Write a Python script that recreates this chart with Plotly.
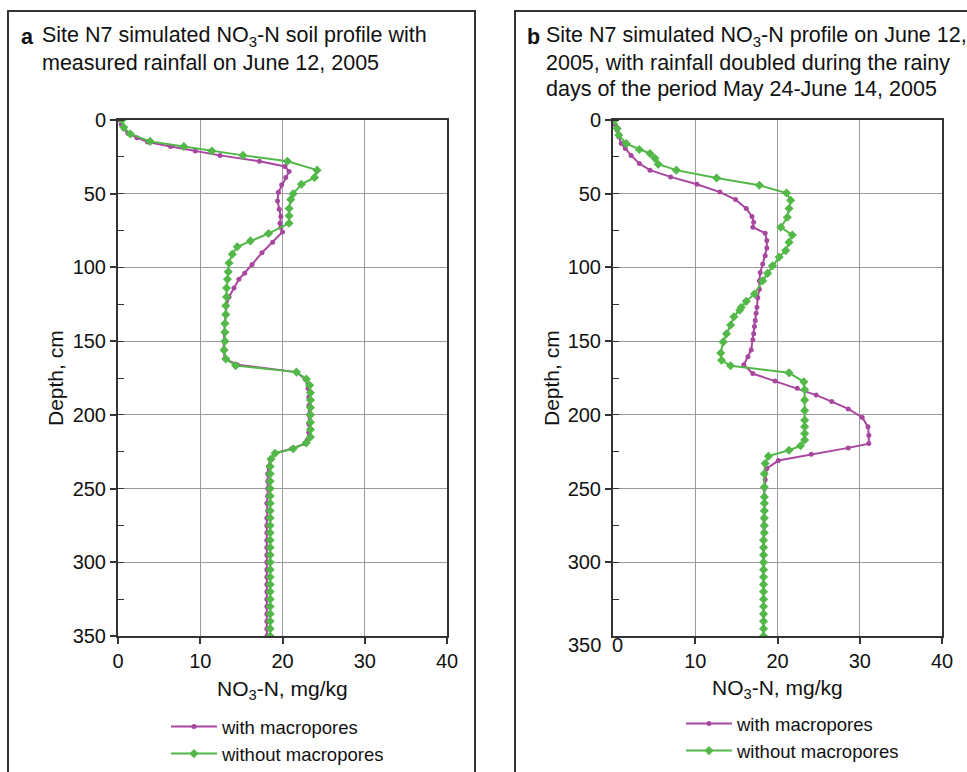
import plotly.graph_objects as go

# ---------------- DATA ----------------
# Panel a: measured rainfall
a_with_depth = [0, 3, 6, 9, 12, 15, 18, 21, 24, 28, 31.5, 35, 39, 44, 49, 55, 60.5, 65.5, 70, 73, 76,
                83, 90, 98, 104, 108, 114, 120, 126, 132, 138, 144, 150, 156, 162, 166, 171, 176, 182,
                188, 194, 200, 206, 212, 217, 219.5, 223, 226, 230, 235, 240, 245, 250, 255, 260, 265,
                270, 275, 280, 285, 290, 295, 300, 305, 310, 315, 320, 325, 330, 335, 340, 345, 350]
a_with_no3 = [0.2, 0.4, 0.7, 1.2, 2.3, 3.6, 6.4, 9.4, 12.4, 17.2, 20.3, 20.8, 20.4, 19.9, 19.5, 19.4,
              19.6, 19.8, 19.7, 19.8, 20.0, 18.8, 17.5, 16.3, 15.4, 14.7, 14.1, 13.5, 13.2, 13.1, 13.0,
              12.9, 12.9, 12.8, 13.0, 14.5, 21.7, 22.8, 23.1, 23.2, 23.2, 23.2, 23.2, 23.2, 23.0, 22.7,
              21.1, 19.1, 18.5, 18.3, 18.2, 18.2, 18.2, 18.2, 18.1, 18.2, 18.1, 18.1, 18.1, 18.1, 18.1,
              18.1, 18.1, 18.1, 18.1, 18.1, 18.1, 18.1, 18.1, 18.1, 18.1, 18.1, 18.1]

a_without_depth = [0, 5, 9.5, 14.5, 18, 21, 24, 28, 34, 39, 43.6, 50, 54, 60, 65, 70, 77, 82, 86, 91,
                   97, 103, 108, 114, 120, 126, 132, 138, 144, 150, 156, 162, 166.6, 171, 175.7, 180,
                   185, 190, 195, 200, 205, 210, 215, 219, 223, 226, 230, 235, 240, 245, 250, 255, 260,
                   265, 270, 275, 280, 285, 290, 295, 300, 305, 310, 315, 320, 325, 330, 335, 340, 345, 350]
a_without_no3 = [0.5, 0.7, 1.5, 3.9, 8.0, 11.4, 15.2, 20.6, 24.2, 23.9, 22.3, 21.3, 21.0, 20.8, 20.8,
                 20.8, 18.3, 16.1, 14.5, 13.9, 13.5, 13.4, 13.3, 13.2, 13.2, 13.1, 13.1, 13.0, 13.0,
                 13.0, 12.9, 13.1, 14.3, 21.7, 22.9, 23.3, 23.4, 23.4, 23.4, 23.4, 23.4, 23.4, 23.4,
                 22.9, 21.3, 19.1, 18.6, 18.5, 18.5, 18.5, 18.5, 18.5, 18.5, 18.5, 18.5, 18.5, 18.5,
                 18.5, 18.5, 18.5, 18.5, 18.5, 18.5, 18.5, 18.5, 18.5, 18.5, 18.5, 18.5, 18.5, 18.5]

# Panel b: rainfall doubled
b_with_depth = [0, 3.4, 6.8, 11.4, 16, 19.3, 24, 29.5, 34, 38.6, 43.6, 48.9, 54, 60, 65.5, 69.3, 72.7,
                76.8, 81.8, 86.8, 92, 97.7, 103.4, 109, 114.8, 120.5, 127, 131, 136, 140, 145, 149,
                156, 160.6, 166, 172, 177, 182, 186.6, 191, 196, 201.8, 208, 213.8, 219.5, 222.4,
                226.7, 231, 236.4, 244, 250, 255, 260, 265, 270, 275, 280, 285, 290, 295, 300, 305,
                310, 315, 320, 325, 330, 335, 340, 345, 350]
b_with_no3 = [0.2, 0.3, 0.5, 0.7, 1.0, 1.5, 2.2, 3.2, 4.5, 7.0, 10.2, 13.0, 14.9, 16.2, 16.9, 17.1,
              17.0, 18.5, 18.7, 18.7, 18.5, 18.2, 17.9, 17.8, 17.8, 17.6, 17.5, 17.4, 17.3, 17.2, 17.1,
              17.0, 16.8, 16.4, 15.9, 17.0, 19.7, 22.4, 24.7, 26.6, 28.6, 30.3, 31.0, 31.1, 31.1, 28.6,
              24.1, 20.1, 18.7, 18.5, 18.4, 18.4, 18.4, 18.4, 18.3, 18.3, 18.3, 18.3, 18.3, 18.3, 18.3,
              18.3, 18.3, 18.3, 18.3, 18.3, 18.3, 18.3, 18.3, 18.3, 18.3]

b_without_depth = [0, 5.7, 10.2, 16, 20, 22.7, 26, 30, 34, 39.3, 44.3, 49.5, 54.5, 60, 66, 72.7, 78,
                   83, 88.6, 93, 98.9, 104, 109, 118, 123, 127, 129, 133.5, 139, 145, 150.5, 158, 163,
                   166.7, 171.5, 177.6, 183, 190, 197, 203.6, 208, 212.7, 217, 221, 224, 228, 233, 240,
                   249, 255.7, 260, 265, 270, 275, 280, 285, 290, 295, 300, 305, 310, 315, 320, 325,
                   330, 335, 340, 345, 350]
b_without_no3 = [0.2, 0.5, 0.7, 1.6, 3.2, 4.5, 5.1, 5.5, 7.7, 12.6, 17.8, 21.1, 21.6, 21.4, 21.2,
                 20.4, 21.8, 21.4, 21.0, 20.2, 19.4, 18.8, 18.2, 17.2, 16.2, 15.6, 15.4, 14.7, 14.3,
                 13.8, 13.4, 13.1, 13.2, 14.3, 21.4, 23.2, 23.3, 23.3, 23.3, 23.3, 23.3, 23.3, 23.3,
                 22.8, 21.4, 18.9, 18.5, 18.4, 18.4, 18.4, 18.4, 18.4, 18.4, 18.4, 18.4, 18.3, 18.3,
                 18.3, 18.3, 18.3, 18.3, 18.3, 18.3, 18.3, 18.3, 18.3, 18.3, 18.3, 18.3]

x_ticks = [0, 10, 20, 30, 40]
y_ticks = [0, 50, 100, 150, 200, 250, 300, 350]
series_names = ["with macropores", "without macropores"]
title_a_lines = ["Site N7 simulated NO<sub>3</sub>-N soil profile with",
                 "measured rainfall on June 12, 2005"]
title_b_lines = ["Site N7 simulated NO<sub>3</sub>-N profile on June 12,",
                 "2005, with rainfall doubled during the rainy",
                 "days of the period May 24-June 14, 2005"]

# ---------------- STYLE ----------------
W, H = 967, 772
MAG = "#A8479F"
GRN = "#52B848"
DARK = "#333333"
GRID = "#9a9a9a"
FONT = "Liberation Sans, Arial, sans-serif"

def px_x(p):
    return p / W

def px_y(p):
    return 1 - p / H

fig = go.Figure()

def add_series(depth, vals, name, color, symbol, size, xa, ya, legend):
    fig.add_trace(go.Scatter(
        x=vals, y=depth, name=name, mode="lines+markers",
        line=dict(color=color, width=2),
        marker=dict(color=color, symbol=symbol, size=size, line=dict(width=0)),
        xaxis=xa, yaxis=ya, legend=legend))

add_series(a_with_depth, a_with_no3, series_names[0], MAG, "circle", 5, "x", "y", "legend")
add_series(a_without_depth, a_without_no3, series_names[1], GRN, "diamond", 7, "x", "y", "legend")
add_series(b_with_depth, b_with_no3, series_names[0], MAG, "circle", 5, "x2", "y2", "legend2")
add_series(b_without_depth, b_without_no3, series_names[1], GRN, "diamond", 7, "x2", "y2", "legend2")

xdomA = [px_x(118), px_x(447)]
xdomB = [px_x(613), px_x(942)]
ydom = [px_y(636), px_y(120)]
TICKF = dict(size=20, color="#111", family=FONT)

def xaxis_main(domain, anchor, tickvals):
    return dict(domain=domain, anchor=anchor, range=[0, 40], tickvals=tickvals,
                showgrid=True, gridcolor=GRID, gridwidth=1.3,
                showline=True, linecolor=DARK, linewidth=2, mirror=True,
                ticks="outside", ticklen=6, tickwidth=2, tickcolor=DARK,
                tickfont=TICKF, zeroline=False, fixedrange=True, automargin=False)

def xaxis_top(domain, overlay, anchor):
    return dict(domain=domain, overlaying=overlay, anchor=anchor, side="top", range=[0, 40],
                dtick=2, tick0=0, ticks="inside", ticklen=5, tickwidth=1, tickcolor=DARK,
                showticklabels=False, showgrid=False, showline=True, linecolor=DARK,
                linewidth=2, zeroline=False, fixedrange=True, automargin=False)

def yaxis_main(anchor, tickvals):
    return dict(domain=ydom, anchor=anchor, range=[350, 0], tickvals=tickvals,
                showgrid=True, gridcolor=GRID, gridwidth=1.3,
                showline=True, linecolor=DARK, linewidth=2, mirror=True,
                ticks="outside", ticklen=6, tickwidth=2, tickcolor=DARK,
                minor=dict(dtick=25, tick0=0, ticks="inside", ticklen=6, tickwidth=1,
                           tickcolor=DARK, showgrid=False),
                tickfont=TICKF, zeroline=False, fixedrange=True, automargin=False)

LEGF = dict(size=18.5, family=FONT, color="#111")
layout = dict(
    autosize=True, margin=dict(l=0, r=0, t=0, b=0, pad=0, autoexpand=False),
    paper_bgcolor="white", plot_bgcolor="white",
    font=dict(family=FONT, color="#111"),
    xaxis=xaxis_main(xdomA, "y", x_ticks),
    yaxis=yaxis_main("x", y_ticks),
    xaxis2=xaxis_main(xdomB, "y2", x_ticks[1:]),
    yaxis2=yaxis_main("x2", y_ticks[:-1]),
    xaxis3=xaxis_top(xdomA, "x", "y"),
    xaxis4=xaxis_top(xdomB, "x2", "y2"),
    legend=dict(x=px_x(166), y=px_y(708), xanchor="left", yanchor="top",
                font=LEGF, bgcolor="rgba(0,0,0,0)", tracegroupgap=0, itemwidth=46),
    legend2=dict(x=px_x(681), y=px_y(705), xanchor="left", yanchor="top",
                 font=LEGF, bgcolor="rgba(0,0,0,0)", tracegroupgap=0, itemwidth=46),
    showlegend=True,
    hovermode=False,
)
fig.update_layout(**layout)

# panel frames
for x0, x1 in [(8, 475), (515, 1000)]:
    fig.add_shape(type="rect", xref="paper", yref="paper",
                  x0=px_x(x0), x1=px_x(x1), y0=px_y(800), y1=px_y(11),
                  line=dict(color=DARK, width=2), fillcolor="rgba(0,0,0,0)", layer="below")

ann = []
TF = dict(size=21.5, family=FONT, color="#111")
AF = dict(size=21, family=FONT, color="#111")
# panel titles
ann.append(dict(text="<b>a</b>", x=px_x(19), y=px_y(37), xanchor="left", yanchor="middle", font=TF))
for i, line in enumerate(title_a_lines):
    ann.append(dict(text=line, x=px_x(40), y=px_y(37 + 26 * i), xanchor="left", yanchor="middle",
                    font=TF))
ann.append(dict(text="<b>b</b>", x=px_x(525), y=px_y(37), xanchor="left", yanchor="middle", font=TF))
for i, line in enumerate(title_b_lines):
    ann.append(dict(text=line, x=px_x(544), y=px_y(37 + 26 * i), xanchor="left", yanchor="middle",
                    font=TF))
# axis titles
ann.append(dict(text="Depth, cm", x=px_x(55), y=px_y(378), xanchor="center", yanchor="middle",
                textangle=-90, font=AF))
ann.append(dict(text="Depth, cm", x=px_x(551), y=px_y(378), xanchor="center", yanchor="middle",
                textangle=-90, font=AF))
ann.append(dict(text="NO<sub>3</sub>-N, mg/kg", x=px_x(282), y=px_y(690), xanchor="center",
                yanchor="middle", font=AF))
ann.append(dict(text="NO<sub>3</sub>-N, mg/kg", x=px_x(777), y=px_y(689), xanchor="center",
                yanchor="middle", font=AF))
for a in ann:
    a.update(xref="paper", yref="paper", showarrow=False)
    fig.add_annotation(**a)

# offset tick labels of panel b (as in the original)
fig.add_annotation(text=str(x_ticks[0]), x=x_ticks[0], y=350, xref="x2", yref="y2",
                   xanchor="center", yanchor="middle", xshift=4, yshift=-9, showarrow=False,
                   font=TICKF)
fig.add_annotation(text=str(y_ticks[-1]), x=0, y=y_ticks[-1], xref="x2", yref="y2",
                   xanchor="right", yanchor="middle", xshift=-10, yshift=-9, showarrow=False,
                   font=TICKF)

POST = """
document.documentElement.style.height='100%';
document.documentElement.style.margin='0';
document.body.style.margin='0';
document.body.style.height='100%';
document.body.style.overflow='hidden';
var gd = document.getElementById('{plot_id}');
gd.parentElement.style.height='100%';
gd.parentElement.style.width='100%';
gd.style.width='100vw';
gd.style.height='100vh';
Plotly.Plots.resize(gd);
"""

fig.write_html("out.html", config={"displayModeBar": False, "responsive": True},
               default_width="100%", default_height="100%", post_script=POST)
